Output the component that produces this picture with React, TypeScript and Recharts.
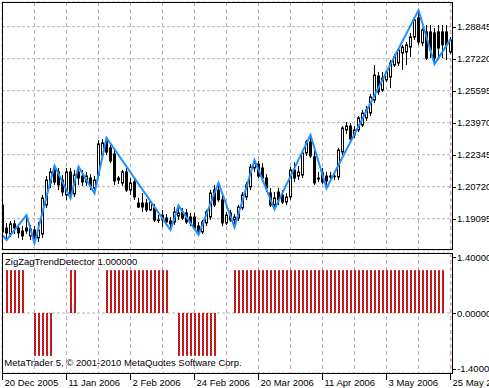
import React from 'react';
import { ComposedChart, Bar, Line, XAxis, YAxis, CartesianGrid } from 'recharts';

// daily bars, index 0 = 20 Dec 2005
const dateLabels = ['20 Dec 2005', '11 Jan 2006', '2 Feb 2006', '24 Feb 2006', '20 Mar 2006', '11 Apr 2006', '3 May 2006', '25 May 2006'];
const dateIdx = [0, 16, 32, 48, 64, 80, 96, 112];
const gridIdx = [0, 8, 16, 24, 32, 40, 48, 56, 64, 72, 80, 88, 96, 104, 112];
const priceTicks = [1.19095, 1.2072, 1.22345, 1.2397, 1.25595, 1.2722, 1.28845];
const indTicks = [-1.4, 0, 1.4];

const opens = [
  1.1979, 1.1862, 1.1832, 1.1883, 1.1862, 1.1847, 1.1862, 1.1822, 1.1852, 1.1812,
  1.1832, 1.1979, 1.2091, 1.2157, 1.2147, 1.2106, 1.2030, 1.2147, 1.2035, 1.2147,
  1.2126, 1.2096, 1.2116, 1.2065, 1.2131, 1.2233, 1.2304, 1.2269, 1.2238, 1.2106,
  1.2091, 1.2147, 1.2055, 1.2096, 1.1989, 1.1989, 1.1989, 1.1954, 1.1964, 1.1903,
  1.1928, 1.1913, 1.1898, 1.1893, 1.1923, 1.1944, 1.1939, 1.1918, 1.1918, 1.1872,
  1.1842, 1.1888, 1.1918, 1.2055, 1.2055, 1.2005, 1.1888, 1.1939, 1.1903, 1.1913,
  1.1964, 1.2020, 1.2071, 1.2167, 1.2187, 1.2167, 1.2116, 1.2040, 1.1979, 1.2045,
  1.2030, 1.1994, 1.2020, 1.2157, 1.2126, 1.2131, 1.2243, 1.2299, 1.2223, 1.2116,
  1.2142, 1.2126, 1.2121, 1.2126, 1.2121, 1.2248, 1.2360, 1.2380, 1.2335, 1.2360,
  1.2385, 1.2421, 1.2446, 1.2512, 1.2634, 1.2563, 1.2614, 1.2629, 1.2690, 1.2700,
  1.2751, 1.2756, 1.2781, 1.2832, 1.2929, 1.2802, 1.2858, 1.2858, 1.2853, 1.2858,
  1.2858, 1.2858, 1.2756,
];
const highs = [
  1.2004, 1.1888, 1.1898, 1.1903, 1.1883, 1.1872, 1.1928, 1.1878, 1.1872, 1.1893,
  1.2030, 1.2126, 1.2167, 1.2179, 1.2167, 1.2131, 1.2167, 1.2167, 1.2157, 1.2174,
  1.2157, 1.2147, 1.2136, 1.2126, 1.2309, 1.2314, 1.2321, 1.2284, 1.2258, 1.2126,
  1.2157, 1.2167, 1.2116, 1.2116, 1.2015, 1.2040, 1.2010, 1.2005, 1.1984, 1.1928,
  1.1954, 1.1933, 1.1918, 1.1969, 1.1976, 1.1964, 1.1959, 1.1939, 1.1939, 1.1893,
  1.1903, 1.1954, 1.2055, 1.2081, 1.2092, 1.2025, 1.1944, 1.1954, 1.1933, 1.1979,
  1.2045, 1.2096, 1.2187, 1.2208, 1.2203, 1.2192, 1.2136, 1.2065, 1.2045, 1.2065,
  1.2055, 1.2040, 1.2172, 1.2197, 1.2177, 1.2258, 1.2309, 1.2335, 1.2258, 1.2147,
  1.2167, 1.2147, 1.2147, 1.2147, 1.2269, 1.2380, 1.2401, 1.2395, 1.2380, 1.2431,
  1.2462, 1.2482, 1.2543, 1.2690, 1.2655, 1.2655, 1.2665, 1.2715, 1.2746, 1.2776,
  1.2792, 1.2807, 1.2853, 1.2929, 1.2969, 1.2878, 1.2893, 1.2893, 1.2878, 1.2893,
  1.2893, 1.2893, 1.2832,
];
const lows = [
  1.1812, 1.1801, 1.1817, 1.1832, 1.1812, 1.1801, 1.1832, 1.1801, 1.1785, 1.1791,
  1.1812, 1.1964, 1.2065, 1.2081, 1.2055, 1.2025, 1.2005, 1.2013, 1.2020, 1.2081,
  1.2076, 1.2076, 1.2055, 1.2039, 1.2116, 1.2208, 1.2233, 1.2192, 1.2081, 1.2086,
  1.2076, 1.2045, 1.2030, 1.2005, 1.1964, 1.1944, 1.1944, 1.1948, 1.1893, 1.1888,
  1.1867, 1.1878, 1.1852, 1.1878, 1.1903, 1.1903, 1.1883, 1.1872, 1.1852, 1.1827,
  1.1832, 1.1872, 1.1903, 1.1969, 1.1994, 1.1872, 1.1878, 1.1893, 1.1866, 1.1898,
  1.1954, 1.2005, 1.2055, 1.2147, 1.2116, 1.2096, 1.2045, 1.1969, 1.1957, 1.1979,
  1.1984, 1.1979, 1.2005, 1.2096, 1.2106, 1.2116, 1.2228, 1.2218, 1.2081, 1.2096,
  1.2086, 1.2064, 1.2101, 1.2106, 1.2106, 1.2233, 1.2340, 1.2304, 1.2319, 1.2350,
  1.2375, 1.2406, 1.2431, 1.2497, 1.2538, 1.2553, 1.2604, 1.2573, 1.2680, 1.2685,
  1.2665, 1.2690, 1.2731, 1.2817, 1.2792, 1.2787, 1.2715, 1.2725, 1.2695, 1.2715,
  1.2725, 1.2715, 1.2746,
];
const closes = [
  1.1842, 1.1837, 1.1883, 1.1862, 1.1837, 1.1822, 1.1847, 1.1857, 1.1812, 1.1852,
  1.2015, 1.2106, 1.2147, 1.2096, 1.2081, 1.2045, 1.2147, 1.2035, 1.2131, 1.2116,
  1.2096, 1.2126, 1.2076, 1.2106, 1.2289, 1.2294, 1.2248, 1.2203, 1.2101, 1.2116,
  1.2147, 1.2055, 1.2091, 1.2020, 1.1969, 1.1969, 1.1954, 1.1994, 1.1903, 1.1900,
  1.1903, 1.1893, 1.1883, 1.1944, 1.1939, 1.1913, 1.1893, 1.1888, 1.1862, 1.1847,
  1.1893, 1.1944, 1.2040, 1.1979, 1.2005, 1.1888, 1.1928, 1.1903, 1.1918, 1.1969,
  1.2030, 1.2081, 1.2172, 1.2192, 1.2126, 1.2116, 1.2065, 1.1979, 1.2015, 1.2005,
  1.1994, 1.2020, 1.2157, 1.2116, 1.2147, 1.2243, 1.2299, 1.2228, 1.2091, 1.2111,
  1.2096, 1.2101, 1.2126, 1.2124, 1.2258, 1.2370, 1.2380, 1.2314, 1.2360, 1.2421,
  1.2446, 1.2462, 1.2528, 1.2639, 1.2553, 1.2624, 1.2655, 1.2700, 1.2731, 1.2766,
  1.2781, 1.2792, 1.2832, 1.2919, 1.2807, 1.2868, 1.2725, 1.2766, 1.2725, 1.2776,
  1.2792, 1.2792, 1.2817,
];

// zigzag pivots: [bar index, price]
const zigzag: [number, number][] = [
  [0, 1.1827], [1, 1.1801], [6, 1.1928], [8, 1.1785], [13, 1.2179], [17, 1.2013],
  [19, 1.2174], [23, 1.2039], [26, 1.2321], [42, 1.1852], [44, 1.1976], [49, 1.1827],
  [54, 1.2092], [58, 1.1866], [63, 1.2208], [68, 1.1957], [77, 1.2335], [81, 1.2064],
  [104, 1.2969], [108, 1.2695], [112, 1.282],
];

// ZigZagTrendDetector output per bar (0 = empty)
const trend = [
  0, 1, 1, 1, 1, 1, 0, 0, -1, -1,
  -1, -1, -1, 0, 0, 0, 0, 1, 1, 0,
  0, 0, 0, 0, 0, 0, 1, 1, 1, 1,
  1, 1, 1, 1, 1, 1, 1, 1, 1, 1,
  1, 1, 0, 0, -1, -1, -1, -1, -1, -1,
  -1, -1, -1, -1, 0, 0, 0, 0, 1, 1,
  1, 1, 1, 1, 1, 1, 1, 1, 1, 1,
  1, 1, 1, 1, 1, 1, 1, 1, 1, 1,
  1, 1, 1, 1, 1, 1, 1, 1, 1, 1,
  1, 1, 1, 1, 1, 1, 1, 1, 1, 1,
  1, 1, 1, 1, 1, 1, 1, 1, 1, 1,
  1, 0, 0,
];

const rows: any[] = opens.map((o, i) => ({
  i,
  open: o,
  high: highs[i],
  low: lows[i],
  close: closes[i],
  range: [lows[i], highs[i]],
  zz: null,
}));
zigzag.forEach(([i, v]) => (rows[i].zz = v));

const indRows = trend.map((t, i) => ({ i, trend: t === 0 ? null : t }));

const FONT = '"Liberation Sans", Arial, sans-serif';
const FS = 9.5;
const X_DOMAIN = [-0.125, 112.375];
const V_GRID = '#C8A8C8';
const H_GRID = '#A8B8A8';

function Candle(props: any) {
  const { x, y, width, height, payload } = props;
  if (x == null || !payload) return null;
  const { open, close, high, low } = payload;
  const cx = Math.round(x + width / 2 - 0.5) + 0.5;
  const py = (v: number) => y + ((high - v) / (high - low)) * height;
  const top = py(Math.max(open, close));
  const bot = py(Math.min(open, close));
  const bull = close > open;
  return (
    <g>
      <line x1={cx} x2={cx} y1={y} y2={y + height} stroke="#000" strokeWidth={1} />
      <rect x={cx - 1} y={top} width={2} height={Math.max(bot - top, 0.6)} fill={bull ? '#fff' : '#000'} stroke="#000" strokeWidth={1} />
    </g>
  );
}

function HistBar(props: any) {
  const { x, y, width, height } = props;
  if (x == null || !height) return null;
  const cx = Math.round(x + width / 2 - 0.5) + 0.5;
  const top = Math.min(y, y + height);
  return <rect x={cx - 0.5} y={top} width={2} height={Math.abs(height)} fill="url(#mtDots)" />;
}

function PriceTick(props: any) {
  const { y, payload } = props;
  const ly = Math.round(y) + 0.5;
  return (
    <g>
      <line x1={452} x2={456} y1={ly} y2={ly} stroke="#000" />
      <text x={457} y={y + 3.5} fontSize={FS} fontFamily={FONT} fill="#000">
        {payload.value.toFixed(5)}
      </text>
    </g>
  );
}

function IndTick(props: any) {
  const { y, payload } = props;
  const v = payload.value;
  const c = v > 0 ? y + 4 : v < 0 ? y - 4.5 : y;
  const ly = Math.round(c) + 0.5;
  return (
    <g>
      <line x1={452} x2={456} y1={ly} y2={ly} stroke="#000" />
      <text x={457} y={c + 3.5} fontSize={FS} fontFamily={FONT} fill="#000">
        {v.toFixed(5)}
      </text>
    </g>
  );
}

function DateTick(props: any) {
  const { x, payload } = props;
  const lx = Math.round(x - 0.5) + 0.5;
  const label = dateLabels[dateIdx.indexOf(payload.value)];
  return (
    <g>
      <line x1={lx} x2={lx} y1={123} y2={130} stroke="#000" />
      <text x={lx + 2} y={136} fontSize={FS} fontFamily={FONT} fill="#000">
        {label}
      </text>
    </g>
  );
}

export default function App() {
  return (
    <div style={{ position: 'fixed', left: 0, top: 0, width: 489, height: 388, background: '#fff', overflow: 'hidden' }}>
      <div style={{ position: 'absolute', left: 0, top: 0 }}>
        <ComposedChart width={489} height={252} data={rows} margin={{ top: 2, right: 0, bottom: 2, left: 2 }}>
          <CartesianGrid horizontal={false} stroke={V_GRID} strokeDasharray="4 3" />
          <CartesianGrid vertical={false} stroke={H_GRID} strokeDasharray="3 2" />
          <XAxis dataKey="i" type="number" domain={X_DOMAIN} ticks={gridIdx} hide allowDataOverflow />
          <YAxis
            orientation="right"
            type="number"
            domain={[1.17506, 1.30099]}
            ticks={priceTicks}
            interval={0}
            width={37}
            allowDataOverflow
            axisLine={false}
            tickLine={false}
            tick={<PriceTick />}
          />
          <Bar dataKey="range" barSize={3} shape={<Candle />} isAnimationActive={false} />
          <Line dataKey="zz" type="linear" connectNulls stroke="#1E90FF" strokeWidth={2} dot={false} activeDot={false} isAnimationActive={false} />
        </ComposedChart>
      </div>
      <div style={{ position: 'absolute', left: 0, top: 250 }}>
        <ComposedChart width={489} height={138} data={indRows} margin={{ top: 3, right: 0, bottom: 0, left: 2 }}>
          <defs>
            <pattern id="mtDots" width={2} height={2} patternUnits="userSpaceOnUse">
              <rect x={0} y={0} width={2} height={2} fill="#E82020" />
              <rect x={0} y={0} width={1} height={1} fill="#A01616" />
              <rect x={1} y={1} width={1} height={1} fill="#A01616" />
            </pattern>
          </defs>
          <CartesianGrid xAxisId="grid" horizontal={false} stroke={V_GRID} strokeDasharray="4 3" />
          <CartesianGrid vertical={false} stroke={H_GRID} strokeDasharray="3 2" />
          <XAxis
            dataKey="i"
            type="number"
            domain={X_DOMAIN}
            ticks={dateIdx}
            interval={0}
            height={15}
            allowDataOverflow
            axisLine={false}
            tickLine={false}
            tick={<DateTick />}
          />
          <XAxis xAxisId="grid" dataKey="i" type="number" domain={X_DOMAIN} ticks={gridIdx} hide allowDataOverflow />
          <YAxis
            orientation="right"
            type="number"
            domain={[-1.4, 1.4]}
            ticks={indTicks}
            interval={0}
            width={37}
            allowDataOverflow
            axisLine={false}
            tickLine={false}
            tick={<IndTick />}
          />
          <Bar dataKey="trend" barSize={2} shape={<HistBar />} isAnimationActive={false} />
        </ComposedChart>
      </div>
      <svg width={489} height={388} style={{ position: 'absolute', left: 0, top: 0, pointerEvents: 'none' }}>
        <rect x={2.5} y={2.5} width={450} height={247} fill="none" stroke="#000" />
        <rect x={2.5} y={253.5} width={450} height={120} fill="none" stroke="#000" />
        <text x={5} y={264.5} fontSize={FS} fontFamily={FONT} fill="#000">
          ZigZagTrendDetector 1.000000
        </text>
        <text x={4.3} y={366} fontSize={FS} fontFamily={FONT} fill="#000">
          MetaTrader 5, © 2001-2010 MetaQuotes Software Corp.
        </text>
      </svg>
    </div>
  );
}
